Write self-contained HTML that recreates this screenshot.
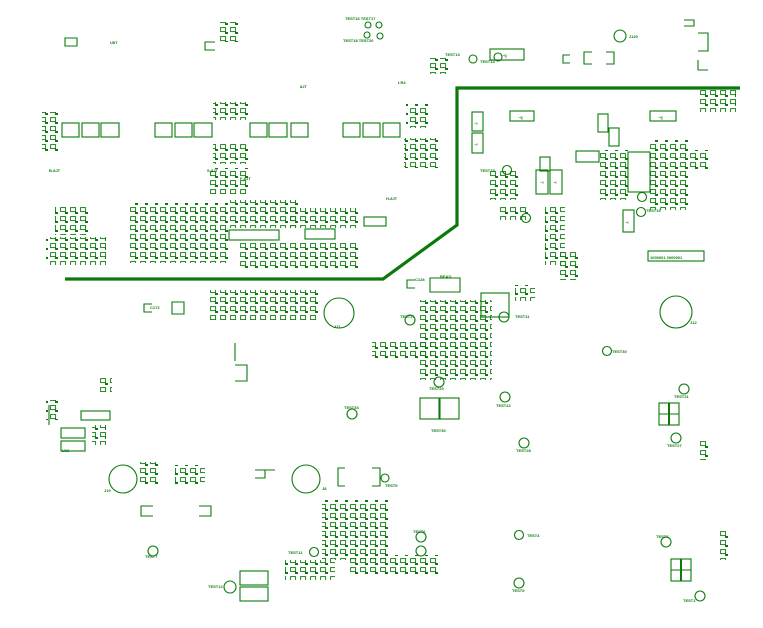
<!DOCTYPE html>
<html><head><meta charset="utf-8"><style>
html,body{margin:0;padding:0;background:#fff;}
svg{display:block}
text{font-family:"Liberation Sans",sans-serif;font-size:4px;fill:#0b7a0b;font-weight:bold}
</style></head><body>
<svg width="763" height="628" viewBox="0 0 763 628" xmlns="http://www.w3.org/2000/svg">
<defs>
<pattern id="g" width="7" height="7" patternUnits="userSpaceOnUse">
<rect x="0.6" y="0.6" width="4.5" height="4" fill="none" stroke="#0b7a0b" stroke-width="0.9"/>
</pattern>
<pattern id="s" width="10" height="9" patternUnits="userSpaceOnUse">
<rect x="0.6" y="0.6" width="5" height="4" fill="none" stroke="#0b7a0b" stroke-width="0.9"/>
<rect x="5" y="5" width="3" height="2" fill="#0b7a0b"/>
</pattern>
</defs>
<g fill="none" stroke="#0b7a0b" stroke-width="1.1">
<polyline points="65,279 383,279 457,225 457,88 740,88" stroke-width="3.2"/>
<rect x="62" y="123" width="17" height="14"/><rect x="82" y="123" width="17" height="14"/><rect x="101" y="123" width="18" height="14"/>
<rect x="155" y="123" width="17" height="14"/><rect x="175" y="123" width="17" height="14"/><rect x="194" y="123" width="18" height="14"/>
<rect x="250" y="123" width="17" height="14"/><rect x="269" y="123" width="18" height="14"/><rect x="291" y="123" width="17" height="14"/>
<rect x="343" y="123" width="17" height="14"/><rect x="363" y="123" width="17" height="14"/><rect x="383" y="123" width="17" height="14"/>
<circle cx="339" cy="313" r="15"/><circle cx="676" cy="312" r="16"/>
<circle cx="123" cy="479" r="14"/><circle cx="306" cy="479" r="14"/>
<circle cx="620" cy="36" r="6"/>
<circle cx="368" cy="25" r="3"/><circle cx="379" cy="25" r="3"/><circle cx="367" cy="35" r="3"/><circle cx="380" cy="36" r="3"/>
<circle cx="473" cy="59" r="4"/><circle cx="498" cy="57" r="4"/>
<circle cx="507" cy="170" r="4.5"/><circle cx="641" cy="212" r="4.5"/><circle cx="642" cy="197" r="4.5"/><circle cx="526" cy="218" r="4.5"/>
<circle cx="410" cy="320" r="5"/><circle cx="504" cy="317" r="5"/><circle cx="439" cy="382" r="5"/><circle cx="505" cy="397" r="5"/>
<circle cx="352" cy="414" r="5"/><circle cx="607" cy="351" r="4.5"/><circle cx="524" cy="443" r="5"/><circle cx="684" cy="389" r="5"/>
<circle cx="676" cy="438" r="5"/><circle cx="385" cy="478" r="4"/><circle cx="153" cy="551" r="5"/><circle cx="230" cy="587" r="6"/>
<circle cx="314" cy="552" r="4.5"/><circle cx="421" cy="537" r="5"/><circle cx="421" cy="551" r="5"/><circle cx="519" cy="535" r="4.5"/>
<circle cx="519" cy="583" r="5"/><circle cx="666" cy="542" r="5"/><circle cx="700" cy="596" r="5"/>
<rect x="490" y="49" width="34" height="11"/><rect x="650" y="111" width="26" height="10"/><rect x="510" y="111" width="24" height="10"/>
<rect x="472" y="112" width="11" height="19"/><rect x="472" y="133" width="11" height="20"/><rect x="598" y="114" width="10" height="18"/>
<rect x="609" y="128" width="10" height="18"/><rect x="536" y="170" width="12" height="24"/><rect x="550" y="170" width="12" height="24"/>
<rect x="623" y="210" width="11" height="22"/><rect x="576" y="151" width="23" height="11"/><rect x="648" y="251" width="56" height="10"/>
<rect x="481" y="293" width="28" height="24"/><rect x="420" y="398" width="19" height="21"/><rect x="440" y="398" width="19" height="21"/>
<rect x="240" y="571" width="28" height="14"/><rect x="240" y="587" width="28" height="14"/><rect x="364" y="217" width="22" height="9"/>
<rect x="61" y="428" width="24" height="10"/><rect x="61" y="441" width="24" height="10"/><rect x="81" y="411" width="29" height="9"/>
<rect x="229" y="230" width="50" height="10"/><rect x="305" y="229" width="30" height="10"/>
<rect x="628" y="152" width="22" height="40"/><rect x="540" y="157" width="10" height="14"/>
<path d="M345,468h-7v18h7 M372,468h8v18h-8"/><path d="M215,42h-10v8h10"/><path d="M153,516h-12v-10h12 M199,516h12v-10h-12"/>
<path d="M570,55h-7v8h7 M592,52h-8v12h8 M606,52h8v12h-8"/><path d="M698,33h10v18h-10 M698,60v10h10"/>
<path d="M152,304h-8v8h8 M184,302v12h-12v-12z"/><path d="M415,280h-8v8h8 M430,278h30v14h-30z"/>
<path d="M65,38h12v8h-12z"/><path d="M684,20h10v6h-10"/><path d="M235,343v18 M235,365h12v16h-12"/>
<path d="M255,470h10v8h-10 M275,470h-10"/><path d="M49,405v20"/>
<rect x="659" y="403" width="20" height="22"/><line x1="669" y1="403" x2="669" y2="425" stroke-width="2"/><line x1="659" y1="414" x2="679" y2="414"/>
<rect x="671" y="559" width="20" height="22"/><line x1="681" y1="559" x2="681" y2="581" stroke-width="2"/><line x1="671" y1="570" x2="691" y2="570"/>
</g>
<g fill="url(#s)" stroke="none">
<rect x="220" y="22" width="18" height="20"/>
<rect x="430" y="58" width="18" height="16"/>
<rect x="700" y="90" width="36" height="22"/>
<rect x="406" y="104" width="24" height="24"/>
<rect x="404" y="138" width="36" height="30"/>
<rect x="42" y="112" width="18" height="40"/>
<rect x="213" y="102" width="36" height="18"/>
<rect x="213" y="144" width="36" height="20"/>
<rect x="210" y="168" width="40" height="26"/>
<rect x="55" y="205" width="34" height="30"/>
<rect x="46" y="237" width="60" height="28"/>
<rect x="128" y="203" width="100" height="60"/>
<rect x="228" y="200" width="72" height="28"/>
<rect x="240" y="242" width="60" height="28"/>
<rect x="290" y="208" width="70" height="20"/>
<rect x="300" y="242" width="60" height="28"/>
<rect x="490" y="170" width="30" height="30"/>
<rect x="500" y="206" width="30" height="14"/>
<rect x="545" y="205" width="20" height="60"/>
<rect x="560" y="250" width="20" height="30"/>
<rect x="600" y="150" width="30" height="50"/>
<rect x="650" y="140" width="40" height="70"/>
<rect x="690" y="150" width="20" height="20"/>
<rect x="210" y="290" width="110" height="30"/>
<rect x="420" y="300" width="72" height="80"/>
<rect x="372" y="340" width="60" height="20"/>
<rect x="515" y="285" width="20" height="16"/>
<rect x="98" y="378" width="14" height="14"/>
<rect x="92" y="425" width="14" height="20"/>
<rect x="46" y="400" width="12" height="20"/>
<rect x="140" y="462" width="20" height="24"/>
<rect x="175" y="465" width="30" height="20"/>
<rect x="322" y="500" width="66" height="60"/>
<rect x="285" y="560" width="50" height="20"/>
<rect x="350" y="555" width="90" height="20"/>
<rect x="700" y="440" width="10" height="20"/>
<rect x="720" y="530" width="10" height="30"/>
</g>
<g fill="#0b7a0b" font-size="5">
<text x="502" y="57">⊣|</text><text x="658" y="119">⊣|</text><text x="518" y="119">⊣|</text>
<text x="474" y="125">⊣</text><text x="474" y="146">⊣</text><text x="540" y="184">⊣</text><text x="553" y="184">⊣</text><text x="625" y="224">⊣</text>
</g>
<text x="110" y="44">U8T</text><text x="300" y="88">8JT</text><text x="49" y="172">B-8JT</text><text x="207" y="172">S-8JT</text><text x="240" y="180">F-8JT</text>
<text x="386" y="200">H-8JT</text><text x="345" y="20">TEST16 TEST17</text><text x="343" y="42">TEST18 TEST20</text>
<text x="445" y="56">TEST13</text><text x="480" y="63">TEST14</text><text x="480" y="172">TEST15</text><text x="646" y="212">TEST16</text>
<text x="400" y="318">TEST21</text><text x="515" y="318">TEST11</text><text x="612" y="353">TEST30</text><text x="429" y="390">TEST23</text>
<text x="496" y="407">TEST22</text><text x="344" y="409">TEST33</text><text x="431" y="432">TEST30</text><text x="516" y="452">TEST28</text>
<text x="674" y="398">TEST21</text><text x="667" y="447">TEST27</text><text x="385" y="487">TEST9</text><text x="145" y="558">TEST7</text>
<text x="208" y="588">TEST12</text><text x="288" y="554">TEST11</text><text x="413" y="533">TEST6</text><text x="527" y="537">TEST4</text>
<text x="512" y="592">TEST5</text><text x="656" y="538">TEST3</text><text x="683" y="602">TEST1</text><text x="104" y="492">J10</text>
<text x="322" y="490">J8</text><text x="334" y="328">J11</text><text x="690" y="324">J12</text><text x="62" y="452">U22</text>
<text x="150" y="309">C172</text><text x="415" y="281">C128</text><text x="440" y="278">BEAD</text><text x="398" y="84">LR4</text>
<text x="629" y="38">J120</text><text x="650" y="259">1000001 2000001</text>
</svg>
</body></html>
